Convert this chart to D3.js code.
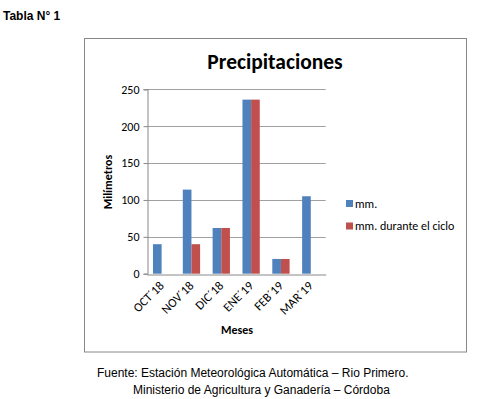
<!DOCTYPE html>
<head>
  <meta charset="utf-8">
  <script src="https://d3js.org/d3.v7.min.js"></script>
  <style>
    body { margin:0; background:#fff; }
    text { font-family: Carlito, Lato, "Open Sans", sans-serif; }
    .note { font-family: Arial, "Liberation Sans", sans-serif; }
  </style>
</head>
<body>
  <div class="chart"></div>
  <script>
    // data
    const months = ["OCT\u00b418", "NOV\u00b418", "DIC\u00b418", "ENE\u00b419", "FEB\u00b419", "MAR\u00b419"];
    const mm = [40, 114, 62, 236, 20, 105];
    const mmCiclo = [null, 40, 62, 236, 20, null];
    const seriesNames = ["mm.", "mm. durante el ciclo"];
    const colors = ["#4F81BD", "#C0504D"];
    const yTicks = [0, 50, 100, 150, 200, 250];

    const W = 484, H = 399;
    const plot = { left: 146.7, right: 325.7, top: 89.3, bottom: 273.7 };

    const svg = d3.select('.chart').append('svg')
      .attr('width', W).attr('height', H);

    svg.append('text').attr('class', 'note')
      .attr('x', 3).attr('y', 20)
      .style('font-size', '12px').style('font-weight', 'bold')
      .text('Tabla N\u00b0 1');

    // chart frame
    svg.append('rect')
      .attr('x', 84.5).attr('y', 38.5).attr('width', 382).attr('height', 313.5)
      .attr('fill', 'none').attr('stroke', '#888').attr('stroke-width', 1);

    svg.append('text')
      .attr('x', 275).attr('y', 69)
      .attr('text-anchor', 'middle')
      .style('font-size', '21.5px').style('font-weight', 'bold')
      .text('Precipitaciones');

    const x = d3.scaleBand().domain(months).range([plot.left, plot.right]).paddingInner(0.42).paddingOuter(0.21);
    const xSub = d3.scaleBand().domain([0, 1]).range([0, x.bandwidth()]);
    const y = d3.scaleLinear().domain([0, 250]).range([plot.bottom, plot.top]);

    // gridlines
    svg.append('g').selectAll('line').data(yTicks.filter(d => d > 0)).join('line')
      .attr('x1', plot.left).attr('x2', plot.right)
      .attr('y1', d => Math.round(y(d)) + 0.5).attr('y2', d => Math.round(y(d)) + 0.5)
      .attr('stroke', '#a0a0a0');

    const yAxis = svg.append('g')
      .attr('transform', `translate(${Math.round(plot.left) + 0.5},0)`)
      .call(d3.axisLeft(y).tickValues(yTicks).tickSize(4).tickPadding(4));
    yAxis.select('.domain').attr('stroke', '#888');
    yAxis.selectAll('line').attr('stroke', '#888');
    yAxis.selectAll('text').style('font-size', '12px').attr('fill', '#000')
      .style('font-family', 'Carlito, Lato, "Open Sans", sans-serif');

    // bars
    const series = [mm, mmCiclo];
    series.forEach((vals, s) => {
      svg.append('g').selectAll('rect')
        .data(months.map((m, i) => ({ m, v: vals[i] })).filter(d => d.v != null))
        .join('rect')
        .attr('x', d => x(d.m) + xSub(s))
        .attr('width', xSub.bandwidth())
        .attr('y', d => y(d.v))
        .attr('height', d => y(0) - y(d.v))
        .attr('fill', colors[s]);
    });

    const xAxis = svg.append('g')
      .attr('transform', `translate(0,${Math.round(plot.bottom) + 0.5})`)
      .call(d3.axisBottom(x).tickSize(0).tickPadding(0));
    xAxis.select('.domain').attr('stroke', '#888');
    xAxis.selectAll('text')
      .style('font-size', '12.5px').attr('fill', '#000')
      .style('font-family', 'Carlito, Lato, "Open Sans", sans-serif')
      .attr('text-anchor', 'end')
      .attr('dy', null)
      .attr('transform', 'translate(3,12) rotate(-45)');

    svg.append('text')
      .attr('x', 237).attr('y', 334)
      .attr('text-anchor', 'middle')
      .style('font-size', '12px').style('font-weight', 'bold')
      .text('Meses');

    svg.append('text')
      .attr('transform', 'translate(112,182) rotate(-90)')
      .attr('text-anchor', 'middle')
      .style('font-size', '12px').style('font-weight', 'bold')
      .text('Mil\u00edmetros');

    // legend
    const legend = svg.append('g').selectAll('g').data(seriesNames).join('g')
      .attr('transform', (d, i) => `translate(346,${200 + i * 22.5})`);
    legend.append('rect').attr('width', 7).attr('height', 7).attr('fill', (d, i) => colors[i]);
    legend.append('text').attr('x', 9).attr('y', 7.5)
      .style('font-size', '12px').text(d => d);

    svg.append('text').attr('class', 'note')
      .attr('x', 97).attr('y', 377)
      .style('font-size', '12px')
      .text('Fuente: Estaci\u00f3n Meteorol\u00f3gica Autom\u00e1tica \u2013 Rio Primero.');
    svg.append('text').attr('class', 'note')
      .attr('x', 133).attr('y', 394)
      .style('font-size', '12px')
      .text('Ministerio de Agricultura y Ganader\u00eda \u2013 C\u00f3rdoba');
  </script>
</body>
